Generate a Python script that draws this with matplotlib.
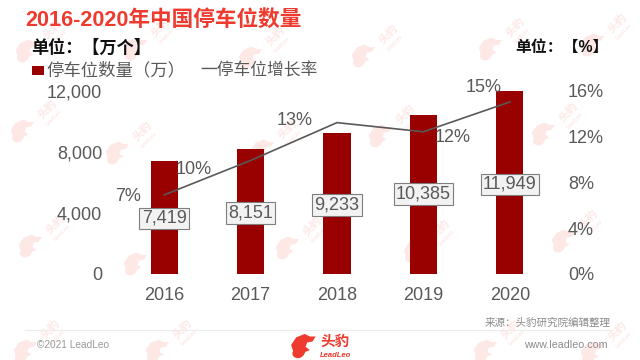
import matplotlib
matplotlib.use('Agg')
import matplotlib.pyplot as plt
from matplotlib.patches import Ellipse, Rectangle, Polygon

plt.rcParams['font.family'] = ['Liberation Sans', 'Noto Sans CJK SC', 'DejaVu Sans']

years = ['2016', '2017', '2018', '2019', '2020']
parking = [7419, 8151, 9233, 10385, 11949]
growth = [6.9, 9.9, 13.2, 12.4, 15.0]
growth_labels = ['7%', '10%', '13%', '12%', '15%']
left_ticks = [0, 4000, 8000, 12000]
right_ticks = [0, 4, 8, 12, 16]

W, H = 640, 360
GREY = '#595959'
BAR = '#990000'
RED = '#ee3b2f'
PALE = '#fde8e6'

fig = plt.figure(figsize=(6.4, 3.6), dpi=100)
bg = fig.add_axes([0, 0, 1, 1])
bg.set_xlim(0, W)
bg.set_ylim(H, 0)
bg.axis('off')


def leopard(a, x, y, s, color, z=1):
    # 豹头 rough shape, s = 1 is about 30px wide
    pts = [(-10, 12), (-14, 0), (-8, -9), (2, -13), (8, -10), (15, -10), (11, -4),
           (5, -3), (3, 2), (8, 6), (3, 8), (0, 13), (-6, 15)]
    a.add_patch(Polygon([(x + p[0] * s, y + p[1] * s) for p in pts], closed=True,
                        fc=color, ec='none', zorder=z))
    a.add_patch(Ellipse((x - 6 * s, y + 10 * s), 13 * s, 11 * s, fc=color, ec='none', zorder=z))


# 워터마크
marks = [(27, 50), (135, 48), (250, 57), (363, 55), (490, 48), (592, 44),
         (22, 130), (117, 152), (262, 150), (380, 135), (543, 133),
         (30, 245), (135, 263), (287, 247), (415, 250), (563, 240),
         (25, 350), (157, 350), (485, 350), (592, 352)]
for x0, y0 in marks:
    leopard(bg, x0, y0, 0.8, PALE)
    bg.text(x0 + 25, y0 - 21, '头豹', fontsize=8, fontweight='bold', color=PALE,
            rotation=45, ha='center', va='center')
    bg.text(x0 + 32, y0 - 12, 'LeadLeo', fontsize=3.5, fontweight='bold', color=PALE,
            rotation=45, ha='center', va='center')

ax = fig.add_axes([121 / W, 1 - 274 / H, 432 / W, 183.5 / H])
ax.patch.set_alpha(0)
ax.bar(years, parking, width=0.315, color=BAR, zorder=2)
ax.set_xlim(-0.5, 4.5)
ax.set_ylim(0, 12000)
ax.set_yticks(left_ticks)
ax.set_yticklabels([f'{v:,}' for v in left_ticks])
ax.tick_params(length=0, labelsize=13, labelcolor=GREY)
ax.tick_params(axis='x', pad=9.5)
ax.tick_params(axis='y', pad=13.5)
for s in ax.spines.values():
    s.set_visible(False)

value_shift = [0, 0, 0, 2, 0]
for i, v in enumerate(parking):
    ax.annotate(f'{v:,}', (i, v * 0.49), xytext=(0, value_shift[i]), textcoords='offset pixels',
                ha='center', va='center', fontsize=13, color=GREY, zorder=5,
                bbox=dict(boxstyle='square,pad=0.13', fc='#f2f2f2', ec='#7f7f7f', lw=0.8))

ax2 = ax.twinx()
ax2.patch.set_alpha(0)
ax2.plot(years, growth, color=GREY, lw=1.2, zorder=4)
ax2.set_ylim(0, 16)
ax2.set_yticks(right_ticks)
ax2.set_yticklabels([f'{v}%' for v in right_ticks])
ax2.tick_params(length=0, labelsize=13, labelcolor=GREY, pad=10.8)
for s in ax2.spines.values():
    s.set_visible(False)

offsets = [(-36, -2), (-57, -9), (-42, 2), (29, -6), (-26, 14)]
for i, v in enumerate(growth):
    ax2.annotate(growth_labels[i], (i, v), xytext=offsets[i], textcoords='offset pixels',
                 ha='center', va='center', fontsize=13, color=GREY)

# 제목, 단위, 범례
bg.text(25, 20, '2016-2020年中国停车位数量', fontsize=15.6, color=RED, fontweight='bold',
        va='center', ha='left')
bg.text(31, 47, '单位：【万个】', fontsize=12.3, fontweight='bold', color='#111111', va='center')
bg.text(515, 47, '单位：【%】', fontsize=11.4, fontweight='bold', color='#111111', va='center')
bg.add_patch(Rectangle((32, 66), 12, 9, fc=BAR, ec='none'))
bg.text(46, 70, '停车位数量（万）', fontsize=12.5, color=GREY, va='center')
bg.text(200, 70, '一停车位增长率', fontsize=12.1, color=GREY, va='center')

# 바닥글
bg.plot([25, 612], [330, 330], color='#ececec', lw=0.8)
bg.text(611, 323, '来源：头豹研究院编辑整理', fontsize=7.6, style='italic', color='#8c8c8c', ha='right', va='center')
bg.text(37, 344.5, '©2021 LeadLeo', fontsize=7.3, color='#9a9a9a', va='center')
bg.text(608, 344.5, 'www.leadleo.com', fontsize=7.7, color='#8c8c8c', ha='right', va='center')
leopard(bg, 303, 345, 0.85, RED, z=3)
bg.text(335, 342, '头豹', fontsize=10.5, fontweight='bold', color=RED, ha='center', va='center', zorder=3)
bg.text(335, 355.5, 'LeadLeo', fontsize=5.5, fontweight='bold', style='italic', color=RED, ha='center', va='center', zorder=3)

fig.savefig('out.png', dpi=100)
